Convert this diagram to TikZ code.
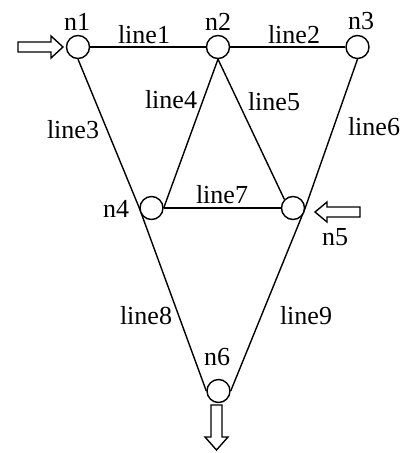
\documentclass[tikz,border=0pt]{standalone}
\usepackage{fontspec}
\setmainfont{Liberation Serif}
\usetikzlibrary{backgrounds}
\begin{document}
\begin{tikzpicture}[x=1pt,y=-1pt,
  nd/.style={circle,draw,line width=1.4pt,minimum size=23pt,inner sep=0pt,fill=white},
  lbl/.style={inner sep=0pt,font=\fontsize{26}{26}\selectfont},
  ln/.style={line width=1.4pt},
  blk/.style={draw,line width=1.4pt,fill=white,line join=miter}]
\useasboundingbox (0,0) rectangle (408,453);
\node[nd] (n1) at (78,47) {};
\node[nd] (n2) at (218,47) {};
\node[nd] (n3) at (357.5,47) {};
\node[nd] (n4) at (151.5,208) {};
\node[nd] (n5) at (293,208) {};
\node[nd] (n6) at (218.5,391) {};
\begin{scope}[on background layer]
\draw[ln] (n1.east) -- (n2.west);
\draw[ln] (n2.east) -- (n3.west);
\draw[ln] (n1.south) -- (n4.west);
\draw[ln] (n4.west) -- (n6.west);
\draw[ln] (n2.south) -- (n4.east);
\draw[ln] (n2.south) -- (n5.north west);
\draw[ln] (n3.south) -- (n5.east);
\draw[ln] (n5.east) -- (n6.east);
\draw[ln] (n4.east) -- (n5.west);
\end{scope}
% labels
\node[lbl] (t1) at (77,22) {n1};
\node[lbl] (t2) at (218,22) {n2};
\node[lbl] (t3) at (361,21) {n3};
\node[lbl] (t4) at (116,209) {n4};
\node[lbl] (t5) at (335,237) {n5};
\node[lbl] (t6) at (217,357) {n6};
\node[lbl] (l1) at (144,35) {line1};
\node[lbl] (l2) at (294,35) {line2};
\node[lbl] (l3) at (73,130) {line3};
\node[lbl] (l4) at (171,100) {line4};
\node[lbl] (l5) at (274,102) {line5};
\node[lbl] (l6) at (374,127) {line6};
\node[lbl] (l7) at (222,195) {line7};
\node[lbl] (l8) at (146,316) {line8};
\node[lbl] (l9) at (306,316) {line9};
% block arrows
\draw[blk] (18,42) -- (51,42) -- (51,36) -- (63,47) -- (51,58) -- (51,52) -- (18,52) -- cycle;
\draw[blk] (360,207) -- (327,207) -- (327,202) -- (315,212) -- (327,222) -- (327,217) -- (360,217) -- cycle;
\draw[blk] (211,405) -- (222,405) -- (222,437) -- (228,437) -- (216.5,450) -- (205,437) -- (211,437) -- cycle;
\end{tikzpicture}
\end{document}
